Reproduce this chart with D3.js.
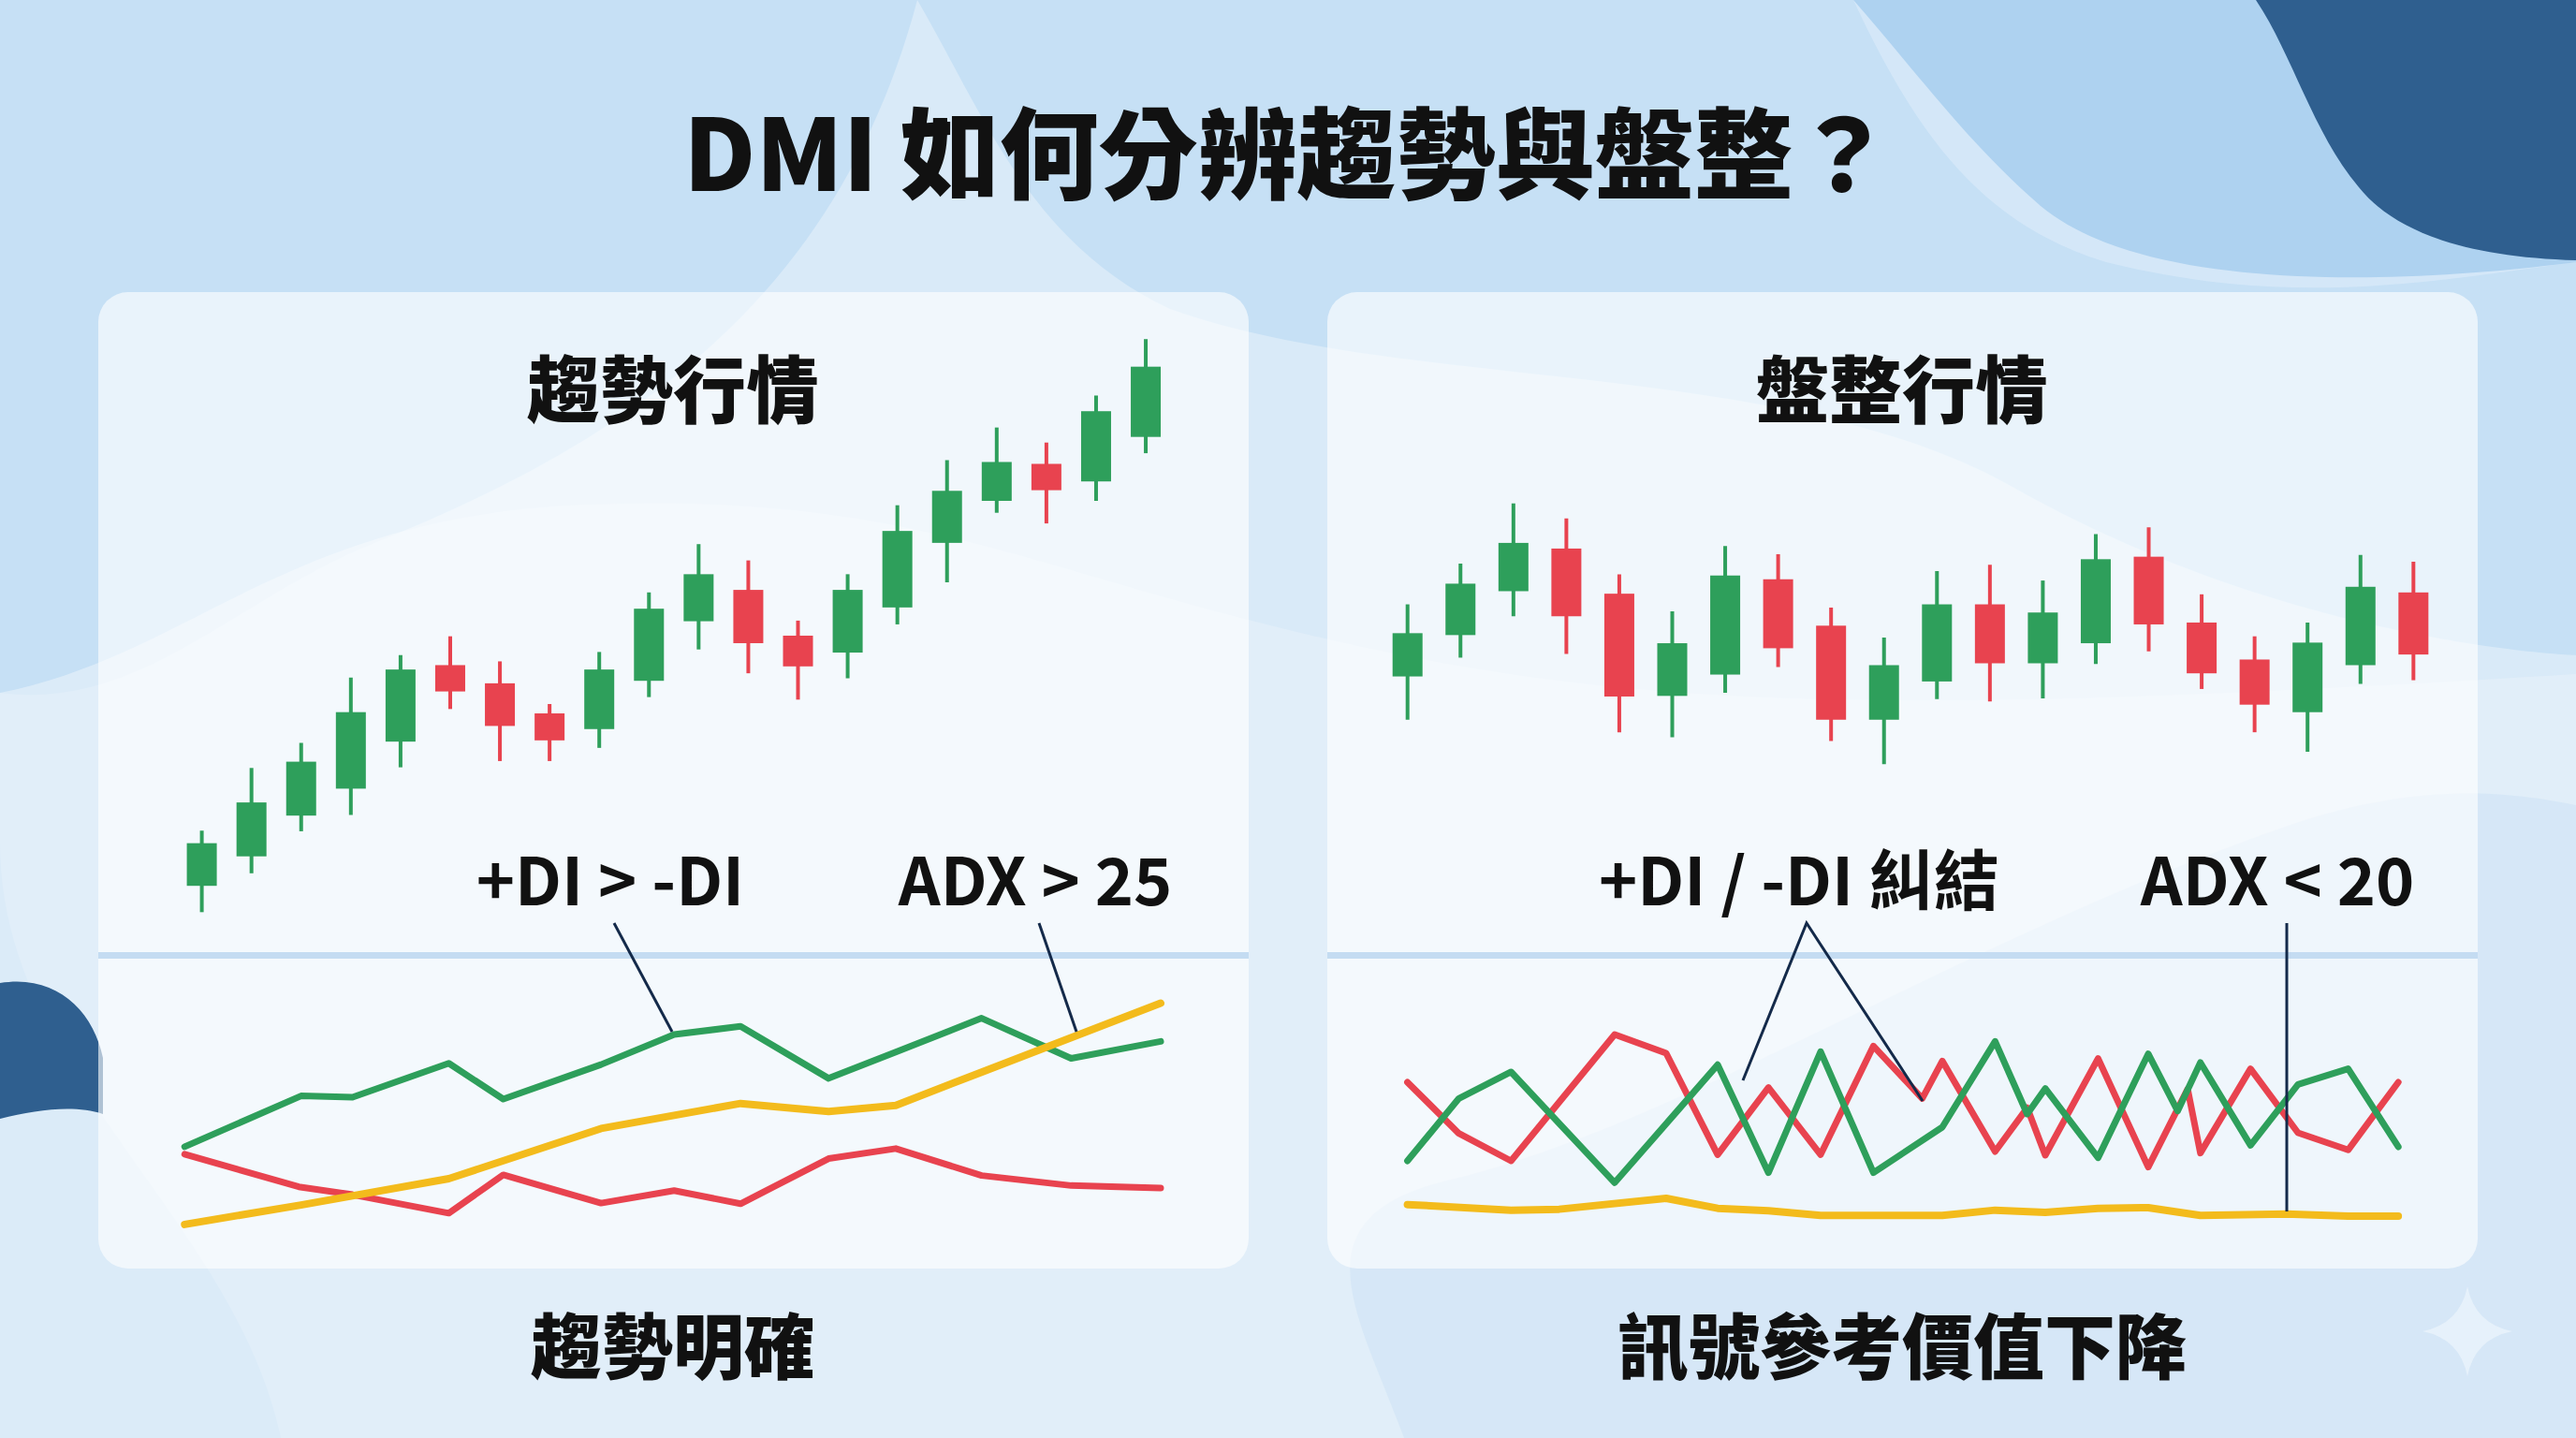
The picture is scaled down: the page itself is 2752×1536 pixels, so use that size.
<!DOCTYPE html>
<html><head><meta charset="utf-8">
<script src="https://cdn.jsdelivr.net/npm/d3@7"></script>
<style>html,body{margin:0;padding:0;background:#c8e1f5;overflow:hidden}</style>
</head><body><svg id="c" width="2752" height="1536"></svg>
<script>
// ---------- DATA ----------
const title = "DMI 如何分辨趨勢與盤整？";
const panelTitles = ["趨勢行情", "盤整行情"];
const bottomLabels = ["趨勢明確", "訊號參考價值下降"];
const leftLabels = ["+DI > -DI", "ADX > 25"];
const rightLabels = ["+DI / -DI 糾結", "ADX < 20"];

// trend candles [open, close, high, low]
const trendOpen  = [13.5,18.2,24.7,29,36.5,48.7,45.8,41,38.5,46.2,55.7,60.7,53.4,50.7,57.9,68.2,74.9,80.8,78,85.1];
const trendClose = [20.3,26.8,33.3,41.2,48,44.5,39,36.7,48,57.7,63.2,52.2,48.5,60.7,70.1,76.5,81.1,76.6,89.2,96.3];
const trendHigh  = [22.3,32.3,36.3,46.7,50.3,53.3,49.3,42.5,50.8,60.3,68,65.4,55.8,63.2,74.2,81.4,86.6,84.2,91.7,100.7];
const trendLow   = [9.3,15.5,22.2,24.8,32.4,41.7,33.4,33.4,35.5,43.6,51.2,47.4,43.2,46.6,55.2,61.9,73,71.3,74.9,82.5];

// range candles
const rangeOpen  = [26.9,33.5,40.5,47.3,40.1,23.8,27.2,42.4,35,20,26.1,38.4,29,32.2,46,35.5,29.6,21.2,28.7,40.3];
const rangeClose = [33.8,41.7,48.2,36.5,23.7,32.2,43,31.4,20,28.7,38.4,29,37.1,45.6,35.2,27.4,22.4,32.3,41.2,30.4];
const rangeHigh  = [38.4,44.9,54.5,52.1,43.2,37.3,47.7,46.4,37.9,33.1,43.7,44.7,42.2,49.6,50.7,40,33.3,35.5,46.3,45.2];
const rangeLow   = [20,29.9,36.5,30.5,18,17.2,24.3,28.4,16.6,12.9,23.3,22.9,23.4,28.9,30.9,24.9,18,14.9,25.7,26.3];

// trend indicator (t = time position, v = value)
const tPlusT = [12.2,27.8,34.7,47.6,54.9,68,77.8,86.7,98.5,107.5,119,131,143];
const tPlusV = [33.8,50,49.6,60.4,49,60,69.6,72.2,55.6,64,74.8,62,67.4];
const tMinusT = [12.2,27.5,34.7,47.6,54.9,68,77.8,86.7,98.5,107.5,119,131,143];
const tMinusV = [31.4,21,18.5,12.6,24.8,15.8,19.8,15.6,30,33.2,24.6,21.4,20.6];
const tAdxT = [12.2,27.8,47.6,68,86.7,98.5,107.5,119,143];
const tAdxV = [9,15.2,23.6,39.6,47.6,45,47,57.6,79.6];

// range indicator
const rPlusT = [3.3,11,18.8,34.3,49.7,57.3,65.1,73,83.3,91.2,96,98.7,106.6,114.1,118.5,121.9,129.4,136.5,144,151.5];
const rPlusV = [44,84,101,30,105.6,36.4,114,36.4,65.6,120.6,74,90.4,46,112.6,76,107,54,93,103,53];
const rMinusT = [3.3,11,18.8,34.3,42,49.7,57.3,65.1,73,80.3,83.3,91.2,96,98.7,106.6,114.1,120,121.9,129.4,136.5,144,151.5];
const rMinusV = [94.4,61.6,44,125,113,48,91,48,117.6,84,108,50,78,47.6,109.6,40,90,49,103,62,51,94.4];
const rAdxT = [3.3,18.8,26,42,49.7,57.3,65.1,83.3,91.2,98.7,106.6,114.1,121.9,134.8,144,151.5];
const rAdxV = [16,12.4,13,20,13.6,12,9,9,12.4,11,13.6,14,9,10,8.6,8.6];

// ---------- DRAW ----------
const svg = d3.select("#c");
const W = 2752, H = 1536;
const green = "#2e9f5b", red = "#e8434f", yellow = "#f3bb1c", navy = "#142a4a";
const font = "'Noto Sans CJK TC','Noto Sans',sans-serif";

// background blobs
svg.append("rect").attr("width",W).attr("height",H).attr("fill","#c6e0f5");
svg.append("path").attr("fill","#d9eaf8")
  .attr("d","M980,0 C1050,120 1100,260 1250,330 C1500,420 1900,380 2150,520 C2450,690 2752,700 2752,700 L2752,1536 L300,1536 C250,1300 0,1150 0,900 L0,740 C150,760 250,640 400,580 C700,460 900,300 980,0 Z");
svg.append("path").attr("fill","#e4f0fa")
  .attr("d","M0,740 C200,700 300,560 600,540 C1000,520 1100,620 1500,700 C1800,760 2100,760 2752,720 L2752,1536 L0,1536 Z").attr("opacity",0.7);
svg.append("path").attr("fill","#d5e8f8")
  .attr("d","M1000,0 L1980,0 C2050,150 2120,240 2250,280 C2450,330 2600,300 2752,280 L2752,0 Z").attr("opacity",0.9);
svg.append("path").attr("fill","#aed2f0")
  .attr("d","M1980,0 L2420,0 C2460,120 2560,210 2752,230 L2752,280 C2600,300 2300,320 2180,220 C2100,150 2050,80 1980,0 Z");
svg.append("path").attr("fill","#2f5f8f")
  .attr("d","M2410,0 L2752,0 L2752,278 C2640,275 2560,250 2520,200 C2470,140 2450,60 2410,0 Z");
svg.append("path").attr("fill","#2f5f8f")
  .attr("d","M0,1050 C60,1040 100,1080 110,1130 L110,1190 C80,1180 40,1185 0,1195 Z");
svg.append("path").attr("fill","#cfe3f5")
  .attr("d","M1500,1536 C1450,1400 1380,1300 1550,1260 C1800,1200 2100,1000 2450,880 C2600,830 2700,850 2752,860 L2752,1536 Z").attr("opacity",0.6);

// title
svg.append("text").attr("x",W/2).attr("y",204).attr("text-anchor","middle")
  .attr("font-family",font).attr("font-weight",900).attr("font-size",106).attr("fill","#111").text(title);

// star
const sx=2636, sy=1422, sr=48;
svg.append("path").attr("fill","#e8f2fb").attr("opacity",0.9)
  .attr("d",`M${sx},${sy-sr} Q${sx+8},${sy-8} ${sx+sr},${sy} Q${sx+8},${sy+8} ${sx},${sy+sr} Q${sx-8},${sy+8} ${sx-sr},${sy} Q${sx-8},${sy-8} ${sx},${sy-sr} Z`);

const panels = [
  {x0:105, cx0:100, candles:[trendOpen,trendClose,trendHigh,trendLow], cy:[1036.6,366.9],
   ind:[[tPlusT,tPlusV,green],[tMinusT,tMinusV,red],[tAdxT,tAdxV,yellow]], iy:[1338,1036.7], ix:[100,100+1568/1.2544], idom:[0,156.8], idomY:[0,90]},
  {x0:1418, cx0:1420, candles:[rangeOpen,rangeClose,rangeHigh,rangeLow], cy:[902.7,233],
   ind:[[rMinusT,rMinusV,red],[rPlusT,rPlusV,green],[rAdxT,rAdxV,yellow]], iy:[1313.3,1080], ix:[1480,2600], idom:[0,156.8], idomY:[0,140]}
];

panels.forEach((p,pi)=>{
  const g = svg.append("g");
  g.append("rect").attr("x",p.x0).attr("y",312).attr("width",1229).attr("height",1043).attr("rx",32)
    .attr("fill","#ffffff").attr("opacity",0.62);
  g.append("rect").attr("x",p.x0).attr("y",1017).attr("width",1229).attr("height",7).attr("fill","#c4dcf2");
  g.append("text").attr("x",p.x0+614).attr("y",446).attr("text-anchor","middle")
    .attr("font-family",font).attr("font-weight",900).attr("font-size",78).attr("fill","#111").text(panelTitles[pi]);
  svg.append("text").attr("x",p.x0+614).attr("y",1467).attr("text-anchor","middle")
    .attr("font-family",font).attr("font-weight",900).attr("font-size",76).attr("fill","#111").text(bottomLabels[pi]);

  // candles
  const [O,C,Hh,L] = p.candles;
  const xs = pi===0
    ? d3.scaleLinear().domain([0,19]).range([p.cx0+145/1.2544, p.cx0+1410/1.2544])
    : d3.scaleLinear().domain([0,19]).range([p.cx0+105/1.2544, p.cx0+1453/1.2544]);
  const ys = d3.scaleLinear().domain([0,100]).range(p.cy);
  const cd = d3.range(O.length).map(i=>({i,o:O[i],c:C[i],h:Hh[i],l:L[i]}));
  const cg = g.selectAll("g.c").data(cd).join("g");
  cg.append("line").attr("x1",d=>xs(d.i)).attr("x2",d=>xs(d.i)).attr("y1",d=>ys(d.h)).attr("y2",d=>ys(d.l))
    .attr("stroke",d=>d.c>=d.o?green:red).attr("stroke-width",4);
  cg.append("rect").attr("x",d=>xs(d.i)-16).attr("width",32)
    .attr("y",d=>ys(Math.max(d.o,d.c))).attr("height",d=>Math.abs(ys(d.o)-ys(d.c)))
    .attr("fill",d=>d.c>=d.o?green:red);

  // indicators
  const ixs = d3.scaleLinear().domain(p.idom).range(p.ix);
  const iys = d3.scaleLinear().domain(p.idomY).range(p.iy);
  p.ind.forEach(([T,V,col])=>{
    const line = d3.line().x(d=>ixs(d[0])).y(d=>iys(d[1]));
    g.append("path").attr("d",line(T.map((t,k)=>[t,V[k]]))).attr("fill","none")
      .attr("stroke",col).attr("stroke-width",col===yellow?8:7).attr("stroke-linejoin","round").attr("stroke-linecap","round");
  });
});

// labels & leaders
function label(x,y,t){ svg.append("text").attr("x",x).attr("y",y).attr("text-anchor","middle")
  .attr("font-family",font).attr("font-weight",700).attr("font-size",70).attr("fill","#111").text(t); }
label(652,967,leftLabels[0]); label(1106,967,leftLabels[1]);
label(1922,967,rightLabels[0]); label(2433,967,rightLabels[1]);
const leaders = [[[656,986],[718,1102]],[[1110,986],[1150,1102]],[[1862,1154],[1930,986],[2054,1176]],[[2443,986],[2443,1294]]];
leaders.forEach(pts=>svg.append("path").attr("d",d3.line()(pts)).attr("fill","none").attr("stroke",navy).attr("stroke-width",3));
</script></body></html>
